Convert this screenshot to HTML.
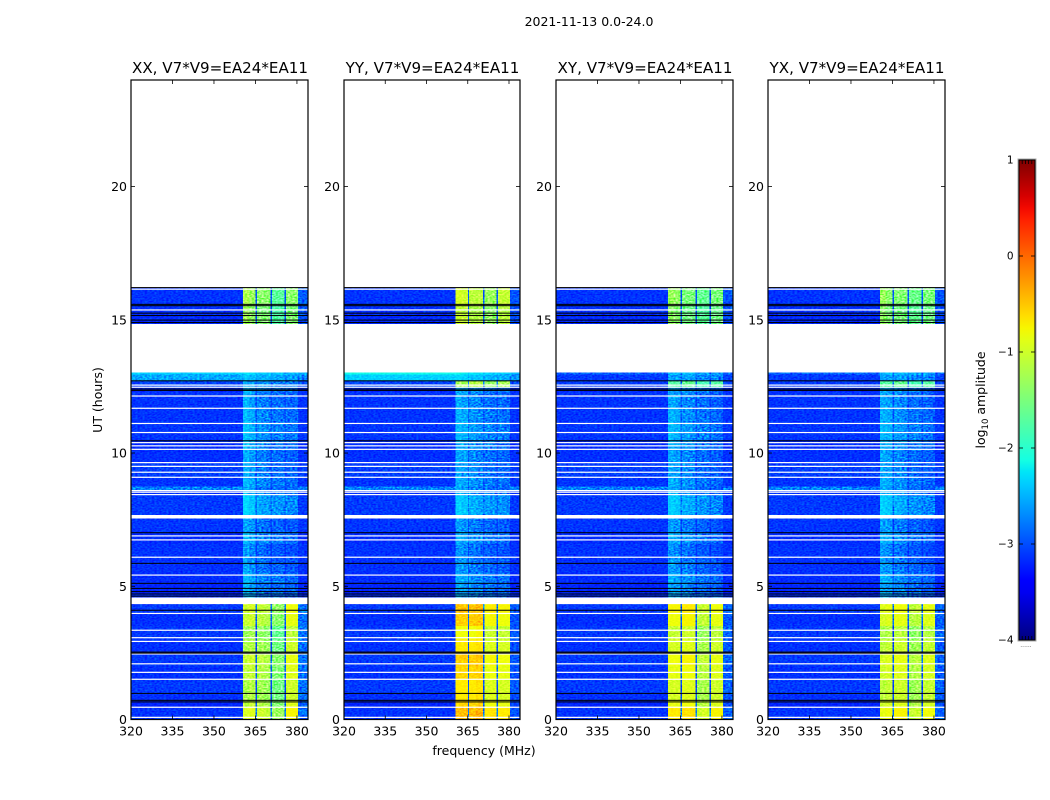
<!DOCTYPE html>
<html>
<head>
<meta charset="utf-8">
<title>2021-11-13 spectrograms</title>
<style>
html,body{margin:0;padding:0;background:#fff;}
svg{display:block;font-family:"DejaVu Sans","Liberation Sans",sans-serif;fill:#000;}
</style>
</head>
<body>
<svg id="chart" xmlns="http://www.w3.org/2000/svg" width="1050" height="800" viewBox="0 0 1050 800">
<defs>
<filter id="grain" x="0" y="0" width="100%" height="100%" color-interpolation-filters="sRGB">
<feTurbulence type="fractalNoise" baseFrequency="0.42 0.7" numOctaves="1" seed="4"/>
<feColorMatrix type="matrix" values="1.8 0 0 0 -0.4 1.8 0 0 0 -0.4 1.8 0 0 0 -0.4 0 0 0 0 1"/>
</filter>
<linearGradient id="jet-gradient" x1="0" y1="1" x2="0" y2="0"></linearGradient>
</defs>
<text x="589" y="26" text-anchor="middle" font-size="12.5">2021-11-13 0.0-24.0</text>
<text x="484" y="755" text-anchor="middle" font-size="12.5">frequency (MHz)</text>
<text transform="translate(102,400) rotate(-90)" text-anchor="middle" font-size="12.5">UT (hours)</text>
<text transform="translate(985,400) rotate(-90)" text-anchor="middle" font-size="12.5">log<tspan font-size="8.5" dy="3">10</tspan><tspan dy="-3"> amplitude</tspan></text>
<text x="1026" y="647" text-anchor="middle" font-size="6" fill="#555">......</text>
</svg>
<script>
// ---- data ----
const panelTitles = ["XX, V7*V9=EA24*EA11", "YY, V7*V9=EA24*EA11", "XY, V7*V9=EA24*EA11", "YX, V7*V9=EA24*EA11"];
const xTicks = [320, 335, 350, 365, 380];
const yTicks = [0, 5, 10, 15, 20];
const colorbarTicks = [-4, -3, -2, -1, 0, 1];
const colorbarEdgeTicks = [0.2, 0.4, 0.6, 0.8];

// frequency column edges (MHz)
const freqEdges = [320, 340, 360.5, 362.7, 365, 365.5, 368, 370.5, 371, 373, 375.5, 376, 378, 380.3, 384];
// time row edges (hours)
const timeEdges = [0, .46, .7, 1, 1.5, 2, 2.5, 3, 3.5, 4, 4.33, 4.57, 4.7, 5.1, 5.5, 6, 6.6, 7, 7.55, 7.67, 8.4, 8.6, 8.75, 9.1, 9.6, 10.1, 10.5, 11.1, 11.7, 12.3, 12.47, 12.7, 12.95, 13.03, 14.84, 15.2, 15.6, 16.22];
// spectrum index per row: 0 bright, 1 dim, 2 late, 3 cyan, 4 transition, -1 no data
const rowSpectrum = [0,0,0,0,0,0,0,0,0,0,-1,1,1,1,1,1,1,1,-1,1,1,1,1,1,1,1,1,1,1,1,4,3,3,-1,2,2,2];
// row-wise brightness offsets for the band columns and the background columns
const rowBandShift = [.2,.05,-.05,-.05,.05,.1,-.05,-.15,.1,.15,0,.05,.05,.1,0,-.05,.1,0,0,.25,.1,.05,.1,.05,.05,.1,.15,.1,.05,.1,0,.05,.2,0,.05,0,.1];
const rowBackShift = [.02,-.05,0,.05,0,.05,0,.05,0,.05,0,0,-.05,-.02,0,.02,-.02,.03,0,.05,0,.4,.02,.08,0,-.02,.03,.02,.02,-.03,0,0,.2,0,-.02,0,.02];

const xxBright = [-3.15,-3.15,-1.15,-1.1,-3.0,-1.2,-1.25,-3.0,-1.5,-1.5,-3.0,-.95,-.95,-2.85];
const xxDim    = [-3.15,-3.15,-2.55,-2.65,-3.05,-2.8,-2.85,-3.1,-2.9,-2.9,-3.1,-2.95,-2.95,-3.15];
const xxLate   = [-3.15,-3.15,-1.3,-1.4,-3.05,-1.5,-1.5,-3.1,-1.8,-1.8,-3.1,-1.5,-1.5,-2.95];
const xxCyan   = [-2.55,-2.55,-2.45,-2.5,-2.65,-2.55,-2.55,-2.65,-2.6,-2.6,-2.75,-2.65,-2.65,-2.75];
const xxShift  = [-3.05,-3.05,-2.55,-2.6,-2.85,-2.65,-2.65,-2.85,-2.75,-2.75,-2.85,-2.75,-2.75,-3.0];

const yyBright = [-3.15,-3.15,-.65,-.65,-2.95,-.65,-.6,-2.95,-.9,-.85,-2.95,-.9,-.9,-3.0];
const yyDim    = [-3.15,-3.15,-2.6,-2.65,-3.0,-2.75,-2.8,-3.05,-2.85,-2.9,-3.1,-2.9,-2.95,-3.15];
const yyLate   = [-3.15,-3.15,-1.05,-1.1,-3.0,-1.2,-1.2,-3.05,-1.4,-1.4,-3.05,-1.15,-1.15,-3.0];
const yyCyan   = [-2.35,-2.35,-2.35,-2.4,-2.55,-2.45,-2.45,-2.55,-2.5,-2.55,-2.65,-2.55,-2.6,-2.65];
const yyShift  = [-3.05,-3.05,-1.25,-1.25,-2.8,-1.15,-1.15,-2.8,-1.35,-1.35,-2.8,-1.25,-1.25,-3.0];

const xyBright = [-3.15,-3.15,-.9,-.9,-3.0,-.85,-.85,-3.0,-1.2,-1.15,-3.0,-.95,-.95,-2.95];
const xyDim    = [-3.15,-3.15,-2.6,-2.65,-3.05,-2.75,-2.8,-3.1,-2.9,-2.9,-3.1,-2.95,-3.0,-3.15];
const xyLate   = [-3.15,-3.15,-1.4,-1.45,-3.05,-1.6,-1.6,-3.1,-1.75,-1.75,-3.1,-1.6,-1.6,-3.0];
const xyCyan   = [-3.1,-3.1,-2.65,-2.65,-2.85,-2.65,-2.65,-2.85,-2.75,-2.75,-2.95,-2.75,-2.8,-3.05];
const xyShift  = [-3.1,-3.1,-1.75,-1.75,-2.85,-1.65,-1.65,-2.85,-1.85,-1.85,-2.9,-1.75,-1.75,-3.05];

const yxBright = [-3.15,-3.15,-1.05,-1.0,-3.0,-.95,-.95,-3.0,-1.25,-1.2,-3.0,-1.0,-1.0,-2.95];
const yxDim    = [-3.15,-3.15,-2.6,-2.65,-3.05,-2.75,-2.8,-3.1,-2.9,-2.9,-3.1,-2.95,-3.0,-3.15];
const yxLate   = [-3.15,-3.15,-1.4,-1.5,-3.05,-1.55,-1.55,-3.1,-1.7,-1.7,-3.1,-1.6,-1.6,-3.0];
const yxCyan   = [-3.1,-3.1,-2.65,-2.65,-2.85,-2.65,-2.65,-2.85,-2.75,-2.75,-2.95,-2.75,-2.8,-3.05];
const yxShift  = [-3.1,-3.1,-1.75,-1.75,-2.85,-1.65,-1.65,-2.85,-1.85,-1.85,-2.9,-1.75,-1.75,-3.05];

const panelSpectra = [
  [xxBright, xxDim, xxLate, xxCyan, xxShift],
  [yyBright, yyDim, yyLate, yyCyan, yyShift],
  [xyBright, xyDim, xyLate, xyCyan, xyShift],
  [yxBright, yxDim, yxLate, yxCyan, yxShift]
];

// flagged integrations (hours): white = blank, black = zero amplitude
const whiteFlags = [16.15,15.37,12.55,12.47,12.14,11.68,11.11,10.77,10.39,10.27,10.14,9.64,9.5,9.28,9.09,8.59,8.53,8.44,6.89,6.74,6.09,5.42,3.98,3.35,3.07,2.93,2.46,2.09,1.77,1.51,.46,.08];
const blackFlags = [16.21,15.58,15.53,15.25,15.16,14.99,14.9,12.71,12.4,12.35,10.46,7.01,5.86,5.11,4.92,4.8,4.71,4.63,4.1,2.53,2.49,.98,.72,.66];

// ---- layout and axis functions ----
const NS = "http://www.w3.org/2000/svg";
const svg = document.getElementById("chart");
const panelLeft = [131, 344, 556, 768];
const panelWidth = [177, 176, 177, 177];
const plotBottom = 719.5, plotTop = 80;
const xMin = 320, xMax = 384, yMin = 0, yMax = 24;
const cbLeft = 1019, cbRight = 1035, cbTop = 160, cbBottom = 640, cbMin = -4, cbMax = 1;

function xScale(p, f) { return panelLeft[p] + (f - xMin) / (xMax - xMin) * panelWidth[p]; }
function yScale(h) { return plotBottom - (h - yMin) / (yMax - yMin) * (plotBottom - plotTop); }
function cbScale(v) { return cbBottom - (v - cbMin) / (cbMax - cbMin) * (cbBottom - cbTop); }

function lerpTable(t, xs, ys) {
  for (let i = 1; i < xs.length; i++) {
    if (t <= xs[i]) return ys[i-1] + (ys[i] - ys[i-1]) * (t - xs[i-1]) / (xs[i] - xs[i-1]);
  }
  return ys[ys.length - 1];
}
function jet(t) {
  t = Math.max(0, Math.min(1, t));
  const r = lerpTable(t, [0,.35,.66,.89,1], [0,0,1,1,.5]);
  const g = lerpTable(t, [0,.125,.375,.64,.91,1], [0,0,1,1,0,0]);
  const b = lerpTable(t, [0,.11,.34,.65,1], [.5,1,1,0,0]);
  return "rgb(" + Math.round(r*255) + "," + Math.round(g*255) + "," + Math.round(b*255) + ")";
}
function colorFor(v) { return jet((v - cbMin) / (cbMax - cbMin)); }
function make(tag, attrs, parent) {
  const el = document.createElementNS(NS, tag);
  for (const k in attrs) el.setAttribute(k, attrs[k]);
  (parent || svg).appendChild(el);
  return el;
}

// ---- panels ----
panelTitles.forEach(function (title, p) {
  const g = make("g", {});
  
  
  const x0 = panelLeft[p], x1 = x0 + panelWidth[p];
  const spectra = panelSpectra[p];

  const cells = make("g", {"shape-rendering": "crispEdges"}, g);
  
  
  rowSpectrum.forEach(function (spec, r) {
    if (spec < 0) return;
    const yTop = yScale(timeEdges[r + 1]), yBot = yScale(timeEdges[r]);
    spectra[spec].forEach(function (val, c) {
      const isBack = (c < 2 || c === 13);
      const v = val + (isBack ? rowBackShift[r] : rowBandShift[r]);
      const xa = xScale(p, freqEdges[c]), xb = xScale(p, freqEdges[c + 1]);
      const cell = make("rect", {x: xa, y: yTop, width: xb - xa, height: yBot - yTop, fill: colorFor(v)}, cells);
      
      
    });
  });

  // decorative speckle over the coarse cells (not data)
  const speckle = make("rect", {x: x0, y: yScale(timeEdges[timeEdges.length - 1]), width: panelWidth[p], height: plotBottom - yScale(timeEdges[timeEdges.length - 1]), filter: "url(#grain)", style: "mix-blend-mode:overlay", opacity: .8}, g);
  
  

  // blank rows
  rowSpectrum.forEach(function (spec, r) {
    if (spec >= 0) return;
    const gap = make("rect", {x: x0, y: yScale(timeEdges[r + 1]), width: panelWidth[p], height: yScale(timeEdges[r]) - yScale(timeEdges[r + 1]), fill: "#fff"}, g);
    
    
  });
  whiteFlags.forEach(function (h) {
    const line = make("rect", {x: x0, y: yScale(h) - .6, width: panelWidth[p], height: 1.2, fill: "#fff"}, g);
    
    
  });
  blackFlags.forEach(function (h) {
    const line = make("rect", {x: x0, y: yScale(h) - .5, width: panelWidth[p], height: 1, fill: "#000"}, g);
    
    
  });

  // frame
  const frame = make("rect", {x: x0, y: plotTop, width: panelWidth[p], height: plotBottom - plotTop, fill: "none", stroke: "#000", "stroke-width": 1.2}, g);
  
  

  // ticks
  xTicks.forEach(function (t) {
    const x = xScale(p, t);
    const top = make("line", {x1: x, x2: x, y1: plotTop, y2: plotTop + 4, stroke: "#000", "stroke-width": .8}, g);
    
    
    const bottom = make("line", {x1: x, x2: x, y1: plotBottom, y2: plotBottom - 4, stroke: "#000", "stroke-width": .8}, g);
    
    
    const label = make("text", {x: x, y: plotBottom + 16, "text-anchor": "middle", "font-size": 12.5}, g);
    
    
    label.textContent = t;
  });
  yTicks.forEach(function (t) {
    const y = yScale(t);
    const left = make("line", {x1: x0, x2: x0 + 4, y1: y, y2: y, stroke: "#000", "stroke-width": .8}, g);
    
    
    const right = make("line", {x1: x1, x2: x1 - 4, y1: y, y2: y, stroke: "#000", "stroke-width": .8}, g);
    
    
    const label = make("text", {x: x0 - 4, y: y + 4.5, "text-anchor": "end", "font-size": 12.5}, g);
    
    
    label.textContent = t;
  });

  const heading = make("text", {x: x0 + panelWidth[p] / 2 + .5, y: 73, "text-anchor": "middle", "font-size": 15.1}, g);
  
  
  heading.textContent = title;
});

// ---- colorbar ----
const gradient = document.getElementById("jet-gradient");
for (let i = 0; i <= 40; i++) {
  make("stop", {offset: i / 40, "stop-color": jet(i / 40)}, gradient);
}
const cb = make("g", {});


const cbOuter = make("rect", {x: cbLeft - 1, y: cbTop - 1, width: cbRight - cbLeft + 2, height: cbBottom - cbTop + 2, fill: "none", stroke: "#aaa", "stroke-width": 1}, cb);


const cbFill = make("rect", {x: cbLeft, y: cbTop, width: cbRight - cbLeft, height: cbBottom - cbTop, fill: "url(#jet-gradient)", stroke: "#000", "stroke-width": 1}, cb);


colorbarTicks.forEach(function (t) {
  const y = cbScale(t);
  const left = make("line", {x1: cbLeft, x2: cbLeft + 4, y1: y, y2: y, stroke: "#000", "stroke-width": .8}, cb);
  
  
  const right = make("line", {x1: cbRight, x2: cbRight - 4, y1: y, y2: y, stroke: "#000", "stroke-width": .8}, cb);
  
  
  const label = make("text", {x: 1013.5, y: y + 3.5, "text-anchor": "end", "font-size": 10.5}, cb);
  
  
  label.textContent = String(t).replace("-", "\u2212");
});
colorbarEdgeTicks.forEach(function (frac) {
  const x = cbLeft + frac * (cbRight - cbLeft);
  const top = make("line", {x1: x, x2: x, y1: cbTop, y2: cbTop + 4, stroke: "#000", "stroke-width": .8}, cb);
  
  
  const bottom = make("line", {x1: x, x2: x, y1: cbBottom, y2: cbBottom - 4, stroke: "#000", "stroke-width": .8}, cb);
  
  
});
</script>
</body>
</html>
